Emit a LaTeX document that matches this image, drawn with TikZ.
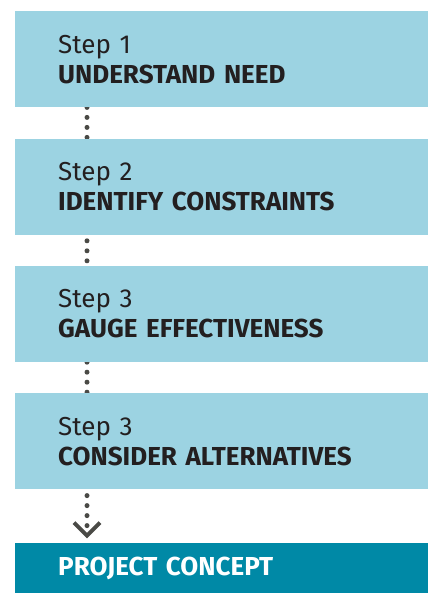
\documentclass[tikz,border=0pt]{standalone}
\usepackage{fontspec}
\setmainfont{Fira Sans}
\usetikzlibrary{positioning, backgrounds}

\definecolor{stepBlue}{RGB}{156,211,226}
\definecolor{conceptTeal}{RGB}{0,137,166}
\definecolor{dotGray}{RGB}{74,74,70}
\definecolor{inkDark}{RGB}{35,31,32}

\begin{document}
\begin{tikzpicture}[
        x = 1pt, y = -1pt, node distance = 31pt,
        stepbox/.style = {fill = stepBlue, draw = none, rectangle, anchor = north west,
            minimum width = 413pt, minimum height = 96pt, inner xsep = 43pt, inner ysep = 0pt,
            text width = 327pt, align = left, text = inkDark,
            font = \fontsize{26pt}{30pt}\selectfont},
        conceptbox/.style = {stepbox, fill = conceptTeal, minimum height = 51pt, text = white},
        dots/.style = {dotGray, line width = 5pt, line cap = round, dash pattern = on 0pt off 10pt},
        chevron/.style = {dotGray, line width = 4pt, line join = miter}
    ]
    \useasboundingbox (0,0) rectangle (428,593);

    \node[stepbox] (need) at (15,11) {Step 1\\\textbf{UNDERSTAND NEED}};
    \node[stepbox] (constraints) [below = of need] {Step 2\\\textbf{IDENTIFY CONSTRAINTS}};
    \node[stepbox] (effect) [below = of constraints] {Step 3\\\textbf{GAUGE EFFECTIVENESS}};
    \node[stepbox] (altern) [below = of effect] {Step 3\\\textbf{CONSIDER ALTERNATIVES}};
    \node[conceptbox] (concept) [below = 53pt of altern] {\textbf{PROJECT CONCEPT}};

    \coordinate (tip) at ([xshift = 72pt, yshift = 7pt]concept.north west);

    % dotted links under the boxes
    \begin{scope}[on background layer]
      \draw[dots] ([xshift = 72pt]need.south west) -- ([xshift = 72pt]constraints.north west);
      \draw[dots, dash phase = 4pt] ([xshift = 72pt]constraints.south west) -- ([xshift = 72pt]effect.north west);
      \draw[dots] ([xshift = 72pt]effect.south west) -- ([xshift = 72pt]altern.north west);
    \end{scope}
    \draw[dots, dash phase = 4pt] ([xshift = 72pt]altern.south west) -- (tip);
    \draw[chevron] ([shift = {(-13,-13)}]tip) -- (tip) -- ([shift = {(13,-13)}]tip);
\end{tikzpicture}
\end{document}
